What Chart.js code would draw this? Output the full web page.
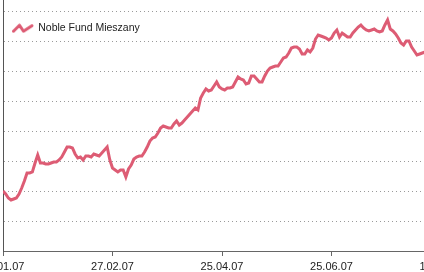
<!DOCTYPE html>
<html>
<head>
<meta charset="utf-8">
<script src="https://cdn.jsdelivr.net/npm/chart.js@4.4.1/dist/chart.umd.min.js"></script>
<style>
  html, body { margin: 0; padding: 0; background: #fff; overflow: hidden; width: 424px; height: 272px; }
  #myChart { position: absolute; left: -40px; top: 0; }
</style>
</head>
<body>
<canvas id="myChart" width="540" height="300"></canvas>
<script>
const seriesName = 'Noble Fund Mieszany';
const tickLabels = ['02.01.07', '27.02.07', '25.04.07', '25.06.07', '17.08.07'];
const tickEvery = 41;
const values = [
  110.00, 109.50, 108.83, 108.50, 108.67, 108.83, 109.50, 110.50, 111.67, 113.00,
  113.00, 113.17, 114.67, 116.00, 114.67, 114.67, 114.50, 114.50, 114.67, 114.83,
  114.83, 115.17, 115.67, 116.50, 117.33, 117.33, 117.17, 116.17, 115.50, 115.67,
  115.17, 115.83, 115.83, 115.67, 116.17, 116.00, 115.83, 116.33, 116.83, 117.33,
  115.17, 113.83, 113.50, 113.17, 113.50, 113.50, 112.33, 113.67, 114.33, 115.33,
  115.67, 115.83, 115.83, 116.50, 117.33, 118.33, 118.83, 119.00, 119.67, 120.50,
  120.83, 120.67, 120.50, 120.50, 121.17, 121.67, 121.00, 121.33, 121.83, 122.33,
  122.83, 123.33, 123.83, 123.50, 125.50, 126.33, 127.00, 126.67, 126.83, 127.50,
  128.17, 127.33, 127.00, 126.83, 127.17, 127.17, 127.33, 128.17, 129.00, 128.67,
  128.50, 127.83, 128.00, 129.17, 129.17, 128.67, 128.17, 128.17, 129.17, 130.00,
  130.50, 130.67, 130.83, 130.83, 131.50, 132.17, 132.33, 133.00, 133.83, 134.00,
  134.00, 133.67, 132.83, 132.83, 133.50, 133.17, 133.83, 135.33, 136.00, 135.83,
  135.67, 135.50, 135.17, 135.50, 136.33, 136.83, 135.67, 136.33, 136.00, 135.67,
  135.67, 136.33, 136.83, 137.33, 137.67, 137.17, 136.83, 136.67, 136.83, 137.00,
  136.67, 136.50, 136.67, 137.67, 138.50, 137.00, 136.67, 136.17, 135.50, 134.67,
  134.33, 135.00, 135.00, 134.00, 133.33, 132.67, 132.83, 133.00, 133.17, 133.17
];

const lineColor = '#dd5c74';

// little zigzag used as the legend marker
function zigzagIcon() {
  const c = document.createElement('canvas');
  c.width = 22; c.height = 10;
  const g = c.getContext('2d');
  g.strokeStyle = lineColor;
  g.lineWidth = 3;
  g.lineJoin = 'round';
  g.lineCap = 'round';
  g.beginPath();
  g.moveTo(1.5, 8);
  g.lineTo(7.5, 2);
  g.lineTo(11.5, 8);
  g.lineTo(20, 2.5);
  g.stroke();
  return c;
}

Chart.defaults.font.family = '"Liberation Sans", Arial, Helvetica, sans-serif';

const points = values.map((v, i) => ({ x: i, y: v }));

const ctx = document.getElementById('myChart').getContext('2d');
const myChart = new Chart(ctx, {
  type: 'line',
  data: {
    datasets: [{
      label: seriesName,
      data: points,
      borderColor: lineColor,
      backgroundColor: lineColor,
      borderWidth: 3,
      pointRadius: 0,
      tension: 0,
      fill: false
    }]
  },
  options: {
    responsive: false,
    animation: false,
    layout: { padding: { left: 43, top: 0, right: 59, bottom: 0 } },
    plugins: {
      tooltip: { enabled: false },
      legend: {
        position: 'chartArea',
        align: 'start',
        title: { display: true, text: ' ', padding: { top: 1, bottom: 0 }, font: { size: 10 } },
        labels: {
          usePointStyle: true,
          pointStyle: zigzagIcon(),
          pointStyleWidth: 20,
          padding: 10,
          color: '#222',
          font: { size: 10.5 }
        }
      }
    },
    scales: {
      x: {
        type: 'linear',
        min: 0,
        max: tickEvery * (tickLabels.length - 1),
        afterFit: s => { s.height = 49; },
        ticks: {
          stepSize: tickEvery,
          autoSkip: false,
          maxRotation: 0,
          padding: 4,
          color: '#222',
          font: { size: 11 },
          callback: v => tickLabels[Math.round(v / tickEvery)]
        },
        grid: { drawOnChartArea: false, drawTicks: true, tickLength: 5, color: '#666' },
        border: { color: '#666', width: 1 }
      },
      y: {
        min: 100,
        max: 100 + 251 / 6,
        afterFit: s => { s.width = 0; },
        ticks: { display: false, stepSize: 5, includeBounds: false },
        grid: {
          color: c => (c.tick && Math.abs(c.tick.value % 5) < 0.001) ? '#9a9a9a' : 'rgba(0,0,0,0)',
          drawTicks: false,
          lineWidth: 1
        },
        border: { color: '#555', width: 1, dash: [1, 3] }
      }
    }
  }
});
</script>
</body>
</html>
